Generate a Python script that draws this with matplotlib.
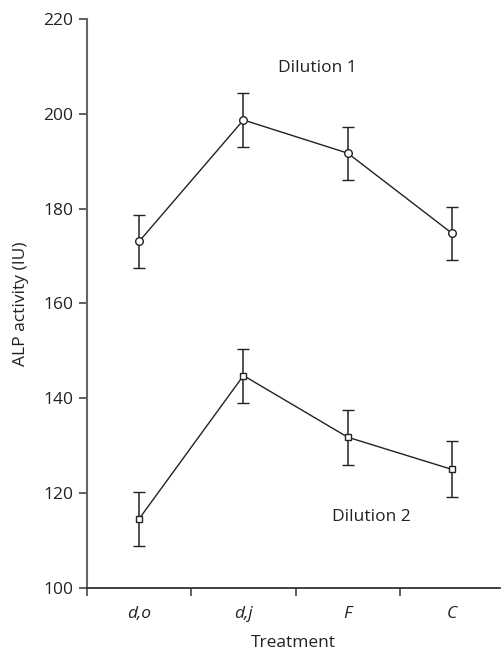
import matplotlib
matplotlib.use("Agg")
import matplotlib.pyplot as plt
from matplotlib.ticker import FixedLocator

plt.rcParams['font.family'] = ['Open Sans', 'DejaVu Sans']

categories = ["d,o", "d,j", "F", "C"]
dil1 = [173.1, 198.7, 191.7, 174.8]
dil1_err = [5.6, 5.7, 5.6, 5.6]
dil2 = [114.6, 144.8, 131.8, 125.0]
dil2_err = [5.7, 5.7, 5.8, 5.9]
yticks = [100, 120, 140, 160, 180, 200, 220]

fig = plt.figure(figsize=(5.01, 6.5), dpi=100)
ax = fig.add_axes([0.1737, 0.0954, 0.8243, 0.8754])
x = list(range(len(categories)))

ax.errorbar(x, dil1, yerr=dil1_err, color='#222222', lw=1.0, elinewidth=1.1,
            capsize=4, capthick=1.1, marker='o', ms=5.5, mfc='white',
            mec='#222222', mew=1.0, zorder=3)
ax.errorbar(x, dil2, yerr=dil2_err, color='#222222', lw=1.0, elinewidth=1.1,
            capsize=4, capthick=1.1, marker='s', ms=4, mfc='white',
            mec='#222222', mew=1.0, zorder=3)

ax.text(1.71, 209.7, "Dilution 1", ha='center', va='center', fontsize=12.5, color='#222222')
ax.text(2.23, 115.0, "Dilution 2", ha='center', va='center', fontsize=12.5, color='#222222')

ax.set_xlim(-0.5, 3.46)
ax.set_ylim(100, 220)
ax.set_yticks(yticks)
ax.set_xticks(x)
ax.set_xticklabels(categories, fontstyle='italic', fontsize=12.5)
ax.xaxis.set_minor_locator(FixedLocator([-0.5, 0.5, 1.5, 2.5]))
ax.tick_params(axis='x', which='major', length=0, pad=13, colors='#222222')
ax.tick_params(axis='x', which='minor', length=6, width=1.2, color='#444444')
ax.tick_params(axis='y', length=6, width=1.2, color='#444444', labelsize=12.5,
               labelcolor='#222222', pad=4)

for s in ['top', 'right']:
    ax.spines[s].set_visible(False)
ax.spines['left'].set_color('#666666')
ax.spines['left'].set_linewidth(1.5)
ax.spines['bottom'].set_color('#333333')
ax.spines['bottom'].set_linewidth(1.3)

ax.set_xlabel("Treatment", fontsize=12.5, color='#222222', labelpad=9)
ax.set_ylabel("ALP activity (IU)", fontsize=12.5, color='#222222', labelpad=10)

fig.savefig("out.png", dpi=100)
